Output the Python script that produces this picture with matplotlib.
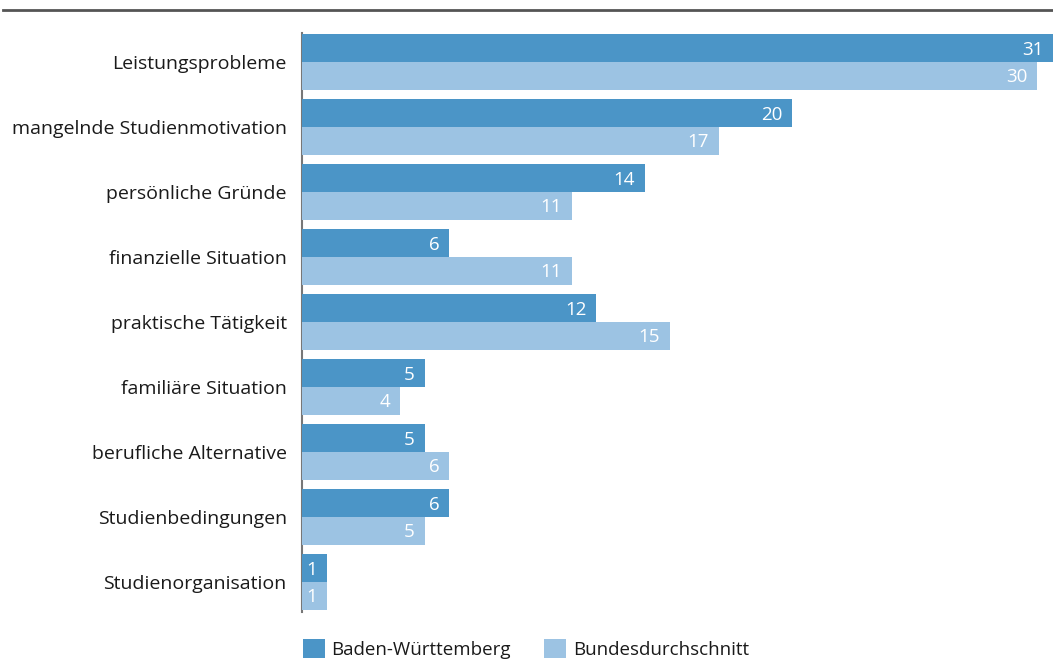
import matplotlib
matplotlib.use("Agg")
import matplotlib.pyplot as plt
import numpy as np

categories = ["Leistungsprobleme", "mangelnde Studienmotivation", "persönliche Gründe",
              "finanzielle Situation", "praktische Tätigkeit", "familiäre Situation",
              "berufliche Alternative", "Studienbedingungen", "Studienorganisation"]
bw = [31, 20, 14, 6, 12, 5, 5, 6, 1]
bund = [30, 17, 11, 11, 15, 4, 6, 5, 1]
series = ["Baden-Württemberg", "Bundesdurchschnitt"]

c_dark = "#4b95c7"
c_light = "#9cc3e3"

plt.rcParams["font.family"] = ["Open Sans", "DejaVu Sans"]
plt.rcParams["text.color"] = "#1a1a1a"

fig = plt.figure(figsize=(10.53, 6.59), dpi=100)
W, H = 1053, 659
ax = fig.add_axes([302 / W, 1 - 612 / H, (W - 302) / W, (612 - 33) / H])

xmax = (W - 302) / 24.5
y = np.arange(len(categories))
h = 0.425
ax.barh(y - h / 2, bw, height=h, color=c_dark, label=series[0])
ax.barh(y + h / 2, bund, height=h, color=c_light, label=series[1])

# value labels sit inside the bar end (or the visible edge if the bar runs off)
for vals, off in [(bw, -h / 2), (bund, h / 2)]:
    for yi, v in zip(y, vals):
        ax.annotate(str(v), (min(v, xmax), yi + off), xytext=(-7, -1),
                    textcoords="offset points", ha="right", va="center",
                    color="white", fontsize=13.5, annotation_clip=False)

ax.set_xlim(0, xmax)
ax.set_ylim(8 + 30 / 65, -29 / 65)
ax.set_yticks(y)
ax.set_yticklabels(categories, fontsize=14)
ax.tick_params(axis="y", length=0, pad=11, labelcolor="#1a1a1a")
ax.set_xticks([])
for s in ["top", "right", "bottom"]:
    ax.spines[s].set_visible(False)
ax.spines["left"].set_color("#777777")
ax.spines["left"].set_linewidth(1.5)
ax.spines["left"].set_zorder(0)

# rule across the top
fig.add_artist(plt.Line2D([3 / W, 1], [1 - 10 / H, 1 - 10 / H], color="#555555", lw=2))

fig.legend(loc="lower left", bbox_to_anchor=(295 / W, -0.011), ncol=2, frameon=False,
           fontsize=13.5, handlelength=1.2, handleheight=1.2, handletextpad=0.35,
           columnspacing=1.75, borderaxespad=0)

fig.savefig("out.png", dpi=100)
